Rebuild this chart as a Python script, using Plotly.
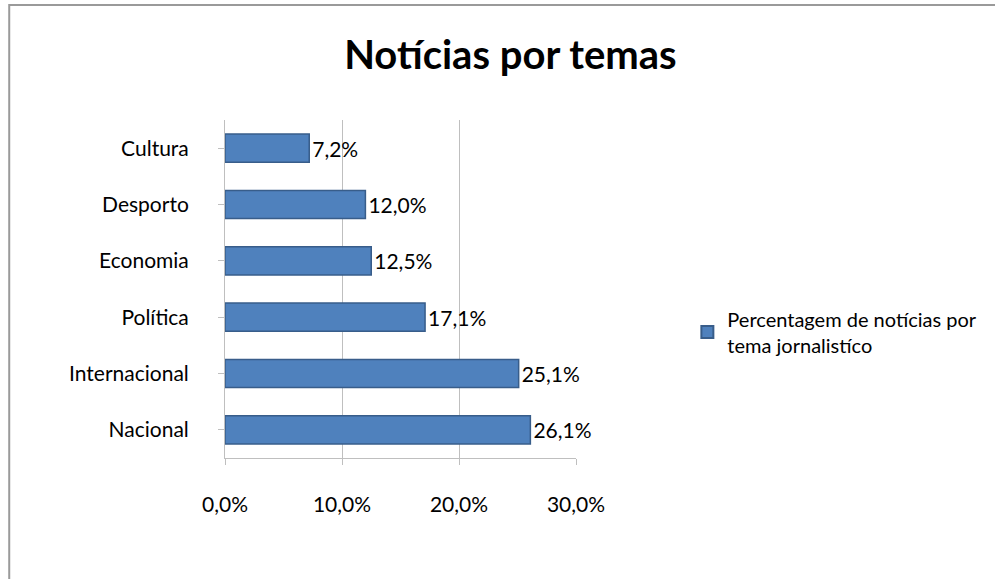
import plotly.graph_objects as go

categories = ["Nacional", "Internacional", "Política", "Economia", "Desporto", "Cultura"]
values = [26.1, 25.1, 17.1, 12.5, 12.0, 7.2]
series_name = "Percentagem de notícias por<br>tema jornalistíco"
x_ticks = [0, 10, 20, 30]
x_tick_text = ["0,0%", "10,0%", "20,0%", "30,0%"]

W, H = 995, 579
L, R, T, B = 225, 417, 120, 121
PW, PH = W - L - R, H - T - B

fig = go.Figure()
fig.add_trace(go.Bar(
    y=categories, x=values, orientation="h",
    name=series_name,
    marker=dict(color="#4F81BD", line=dict(color="#385D8A", width=1.5)),
    text=values, texttemplate="%{x:.1f}%", textposition="outside",
    textfont=dict(size=21, color="#000000"),
    cliponaxis=False,
))

fig.update_layout(
    width=W, height=H,
    paper_bgcolor="white", plot_bgcolor="white",
    separators=",.",
    font=dict(family="Lato, Carlito, Calibri, sans-serif", size=21, color="#000000"),
    title=dict(text="<b>Notícias por temas</b>", x=0.513, xanchor="center",
               y=1 - 55 / H, yanchor="middle", font=dict(size=40)),
    margin=dict(l=L, r=R, t=T, b=B),
    bargap=0.5,
    showlegend=True,
    legend=dict(x=(690 - L) / PW, xanchor="left", y=(H - B - 332) / PH, yanchor="middle",
                font=dict(size=20), itemsizing="constant"),
    xaxis=dict(range=[0, 30], tickvals=x_ticks, ticktext=x_tick_text,
               showgrid=True, gridcolor="#BFBFBF", gridwidth=1,
               showline=True, linecolor="#BFBFBF", ticks="outside", tickcolor="#BFBFBF",
               ticklen=6, zeroline=False, tickfont=dict(size=21), ticklabelstandoff=22),
    yaxis=dict(showline=True, linecolor="#BFBFBF", ticks="outside", tickcolor="#BFBFBF",
               ticklen=6, tickfont=dict(size=21), ticklabelstandoff=25),
    shapes=[dict(type="rect", xref="paper", yref="paper",
                 x0=(8 - L) / PW, x1=1 + (R + 10) / PW,
                 y0=-(B + 10) / PH, y1=1 + (T - 5) / PH,
                 line=dict(color="#9A9A9A", width=2), layer="below")],
)

fig.write_html("out.html", config={"displayModeBar": False},
               post_script="document.body.style.margin='0';")
